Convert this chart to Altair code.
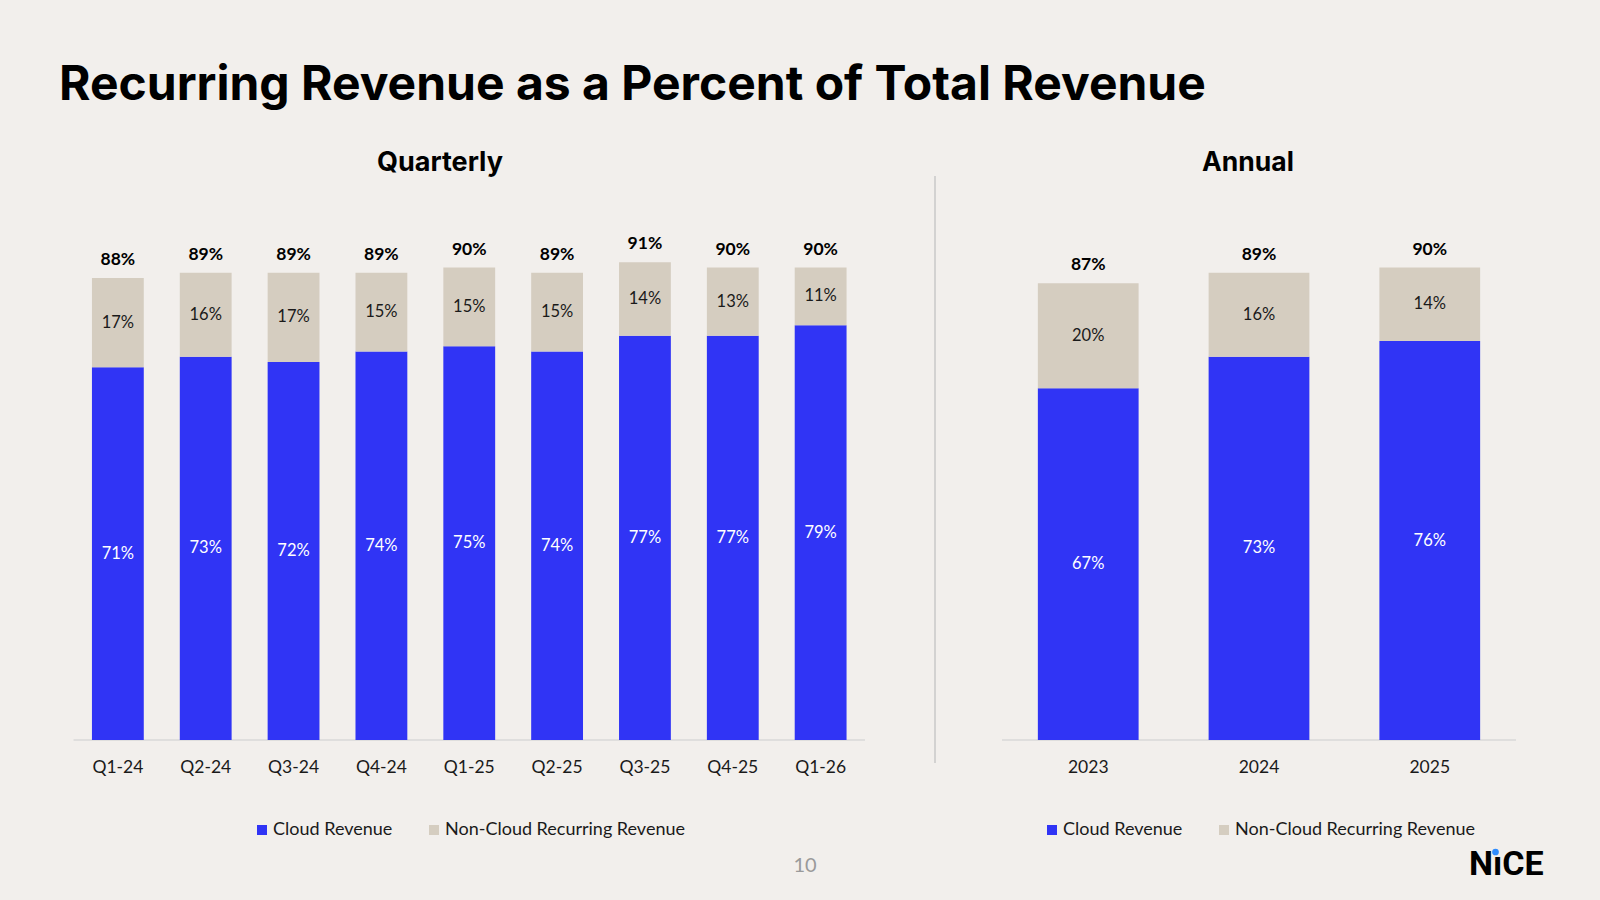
import altair as alt
import pandas as pd

# ---- data ----
quarters = ["Q1-24", "Q2-24", "Q3-24", "Q4-24", "Q1-25", "Q2-25", "Q3-25", "Q4-25", "Q1-26"]
q_cloud = [71, 73, 72, 74, 75, 74, 77, 77, 79]
q_noncloud = [17, 16, 17, 15, 15, 15, 14, 13, 11]
q_total = [88, 89, 89, 89, 90, 89, 91, 90, 90]

years = ["2023", "2024", "2025"]
a_cloud = [67, 73, 76]
a_noncloud = [20, 16, 14]
a_total = [87, 89, 90]

series = ["Cloud Revenue", "Non-Cloud Recurring Revenue"]
colors = ["#3034F5", "#D5CDC0"]

BG = "#F2EFEC"
LBL_FONT = "Lato"


def long_df(cats, cloud, nonc, key):
    rows = []
    for c, cl, nc in zip(cats, cloud, nonc):
        rows.append({key: c, "series": series[0], "start": 0, "end": cl,
                     "mid": cl / 2, "label": f"{cl}%"})
        rows.append({key: c, "series": series[1], "start": cl, "end": cl + nc,
                     "mid": cl + nc / 2, "label": f"{nc}%"})
    return pd.DataFrame(rows)


q_long = long_df(quarters, q_cloud, q_noncloud, "cat")
q_tot = pd.DataFrame({"cat": quarters, "total": q_total,
                      "tlabel": [f"{t}%" for t in q_total]})
a_long = long_df(years, a_cloud, a_noncloud, "cat")
a_tot = pd.DataFrame({"cat": years, "total": a_total,
                      "tlabel": [f"{t}%" for t in a_total]})

yscale = alt.Scale(domain=[0, 100], range=[740, 215])


def panel(long, tot, xrange, legend_x):
    xs = alt.Scale(domain=list(tot["cat"]), range=xrange,
                   paddingInner=0.41, paddingOuter=0.21)
    X = alt.X("cat:N", scale=xs, axis=None, sort=list(tot["cat"]))
    bars = alt.Chart(long).mark_bar().encode(
        x=X,
        y=alt.Y("start:Q", scale=yscale, axis=None),
        y2="end:Q",
        color=alt.Color(
            "series:N",
            scale=alt.Scale(domain=series, range=colors),
            legend=alt.Legend(
                orient="none", legendX=legend_x, legendY=821,
                direction="horizontal", title=None, symbolType="square",
                symbolSize=100, symbolStrokeWidth=0, labelFont=LBL_FONT,
                labelFontSize=18, labelColor="#1a1a1a", columnPadding=32,
                labelOffset=2, labelLimit=500,
            ),
        ),
    )
    seg = alt.Chart(long).mark_text(font=LBL_FONT, fontSize=16.5, baseline="middle").encode(
        x=X,
        y=alt.Y("mid:Q", scale=yscale),
        text="label:N",
        color=alt.condition(alt.datum.series == series[0],
                            alt.value("white"), alt.value("#1a1a1a")),
    )
    tots = alt.Chart(tot).mark_text(font=LBL_FONT, fontSize=17.5, fontWeight="bold",
                                    baseline="middle", dy=-18, color="black").encode(
        x=X,
        y=alt.Y("total:Q", scale=yscale),
        text="tlabel:N",
    )
    ticks = alt.Chart(tot).mark_text(font=LBL_FONT, fontSize=17.5, baseline="middle",
                                     color="#1a1a1a").encode(
        x=X,
        y=alt.value(768),
        text="cat:N",
    )
    return alt.layer(bars, seg, tots, ticks)


one = pd.DataFrame({"k": [0]})

base_q = alt.Chart(one).mark_rule(color="#D9D9D9", strokeWidth=1.5).encode(
    x=alt.value(73.5), x2=alt.value(865), y=alt.value(740))
base_a = alt.Chart(one).mark_rule(color="#D9D9D9", strokeWidth=1.5).encode(
    x=alt.value(1002), x2=alt.value(1516), y=alt.value(740))
divider = alt.Chart(one).mark_rule(color="#C8C8C8", strokeWidth=1.5).encode(
    x=alt.value(935), y=alt.value(176), y2=alt.value(763))


def label(txt, x, y, **kw):
    return alt.Chart(pd.DataFrame({"t": [txt]})).mark_text(**kw).encode(
        x=alt.value(x), y=alt.value(y), text="t:N")


title = label("Recurring Revenue as a Percent of Total Revenue", 59, 100,
              font="Inter", fontSize=48, fontWeight="bold", align="left",
              baseline="alphabetic", color="black")
sub_q = label("Quarterly", 440, 163, font="Inter", fontSize=27, fontWeight="bold",
              align="center", baseline="middle", color="black")
sub_a = label("Annual", 1248, 163, font="Inter", fontSize=26.5, fontWeight="bold",
              align="center", baseline="middle", color="black")
page = label("10", 805, 866, font=LBL_FONT, fontSize=20, align="center",
             baseline="middle", color="#9A9A9A")
logo = label("N\u0131CE", 1469, 875, font="Roboto", fontSize=34, fontWeight="bold",
             align="left", baseline="alphabetic", color="black")
dot = alt.Chart(one).mark_circle(color="#2F8CFF", opacity=1, size=45).encode(
    x=alt.value(1495.5), y=alt.value(852))

q_panel = panel(q_long, q_tot, [73.5, 865], 253)
a_panel = panel(a_long, a_tot, [1002, 1516], 1043)

chart = alt.layer(
    base_q, base_a, divider, q_panel, a_panel,
    title, sub_q, sub_a, page, logo, dot,
).resolve_scale(x="independent", color="independent").resolve_legend(
    color="independent"
).properties(
    width=1600, height=900, padding=0, autosize=alt.AutoSizeParams(type="none"),
    background=BG,
).configure_view(stroke=None)

chart.save("out.html", embed_options={"renderer": "svg", "actions": False})
